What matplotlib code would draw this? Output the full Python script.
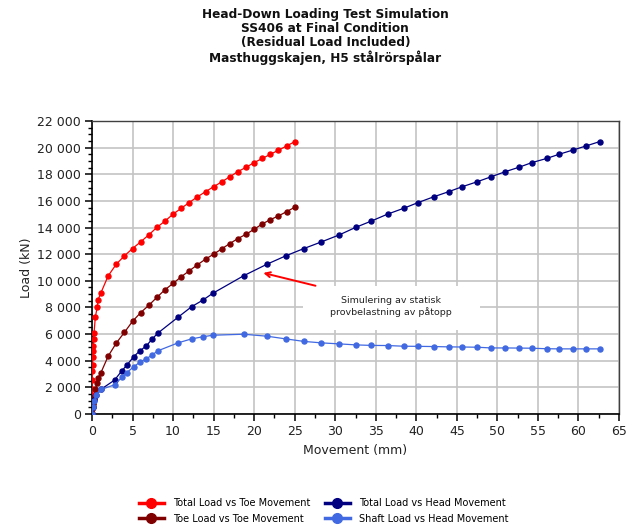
import matplotlib
matplotlib.use("Agg")
import matplotlib.pyplot as plt
from matplotlib.lines import Line2D
from matplotlib.patches import Rectangle
from matplotlib.ticker import MultipleLocator, FuncFormatter

# Pile head-down loading simulation (SS406, final condition)
toe_movement = [0, 0.003, 0.006, 0.01, 0.02, 0.04, 0.06, 0.08, 0.11, 0.14,
                0.17, 0.20, 0.25, 0.41, 0.66, 0.74, 1.07, 2, 3, 4,
                5, 6, 7, 8, 9, 10, 11, 12, 13, 14,
                15, 16, 17, 18, 19, 20, 21, 22, 23, 24, 25]
head_movement = [0, 0.1, 0.25, 0.55, 1.15, 2.78, 3.68, 4.26, 5.16, 5.9,
                 6.7, 7.4, 8.1, 10.65, 12.29, 13.69, 14.88, 18.7, 21.6, 23.9,
                 26.14, 28.3, 30.5, 32.51, 34.44, 36.46, 38.43, 40.24, 42.13, 43.98,
                 45.66, 47.47, 49.24, 51.0, 52.65, 54.25, 56.07, 57.6, 59.27, 60.9, 62.6]
total_load = [0, 560, 1050, 1430, 1871, 2545, 3244, 3643, 4316, 4740,
              5115, 5614, 6063, 7285, 8059, 8558, 9057, 10379, 11252, 11876,
              12425, 12924, 13448, 14010, 14484, 15008, 15444, 15880, 16305, 16690,
              17065, 17430, 17815, 18200, 18525, 18875, 19186, 19500, 19810, 20120, 20450]
toe_load = [0, 5, 10, 20, 30, 340, 480, 560, 740, 830,
            950, 1100, 1250, 1850, 2300, 2700, 3060, 4350, 5330, 6130,
            6961, 7610, 8159, 8757, 9331, 9805, 10304, 10753, 11202, 11627,
            12001, 12400, 12799, 13174, 13498, 13872, 14271, 14596, 14870, 15195, 15519]
shaft_load = [0, 550, 950, 1400, 1846, 2196, 2745, 3094, 3550, 3890,
              4150, 4420, 4740, 5350, 5640, 5800, 5913, 5990, 5840, 5640,
              5450, 5340, 5265, 5190, 5150, 5140, 5090, 5080, 5065, 5040,
              5030, 5015, 4960, 4960, 4950, 4940, 4900, 4890, 4890, 4890, 4890]

series = [
    ("Total Load vs Toe Movement", toe_movement, total_load, "#ff0000"),
    ("Toe Load vs Toe Movement", toe_movement, toe_load, "#800000"),
    ("Total Load vs Head Movement", head_movement, total_load, "#000080"),
    ("Shaft Load vs Head Movement", head_movement, shaft_load, "#4169e1"),
]

title_lines = ["Head-Down Loading Test Simulation",
               "SS406 at Final Condition",
               "(Residual Load Included)",
               "Masthuggskajen, H5 stålrörspålar"]
note_text = "Simulering av statisk\nprovbelastning av påtopp"

plt.rcParams["font.family"] = ["DejaVu Sans"]

fig = plt.figure(figsize=(6.28, 5.28), dpi=100)
ax = fig.add_axes([92 / 628, 1 - 414 / 528, 527 / 628, 293 / 528])

for label, xs, ys, color in series:
    ax.plot(xs, ys, color=color, lw=0.9, marker="o", ms=3.6, mec=color,
            mfc=color, zorder=3, label=label)

ax.set_xlim(0, 65)
ax.set_ylim(0, 22000)
ax.xaxis.set_major_locator(MultipleLocator(5))
ax.xaxis.set_minor_locator(MultipleLocator(2.5))
ax.yaxis.set_major_locator(MultipleLocator(2000))
ax.yaxis.set_minor_locator(MultipleLocator(500))
ax.yaxis.set_major_formatter(FuncFormatter(lambda v, p: f"{int(v):,}".replace(",", " ")))

ax.set_axisbelow(True)
ax.grid(True, which="major", color="#c4c4c4", lw=1.2)
ax.tick_params(which="major", direction="out", length=5, width=1.1,
               labelsize=9, labelcolor="#222222", pad=3)
ax.tick_params(which="minor", direction="out", length=3, width=1.0)

for side in ("left", "bottom"):
    ax.spines[side].set_color("black")
    ax.spines[side].set_linewidth(1.2)
for side in ("top", "right"):
    ax.spines[side].set_color("#404040")
    ax.spines[side].set_linewidth(1.0)

ax.set_xlabel("Movement (mm)", fontsize=9, color="#222222", labelpad=4)
ax.set_ylabel("Load (kN)", fontsize=9, color="#222222", labelpad=3)

# Note box with arrow pointing at the head-movement curve
ax.add_patch(Rectangle((26.0, 6300), 21.8, 3280, facecolor="white",
                       edgecolor="none", zorder=1.5))
ax.text(36.9, 8050, note_text, ha="center", va="center", fontsize=6.8,
        color="#222222", linespacing=1.25, zorder=4)
ax.annotate("", xy=(20.8, 10640), xytext=(27.9, 9580),
            arrowprops=dict(arrowstyle="->", color="#ff0000", lw=1.4,
                            mutation_scale=9), zorder=4)

fig.text(0.518, 1 - 8 / 528, "\n".join(title_lines), ha="center", va="top",
         fontsize=8.7, fontweight="bold", color="#111111", linespacing=1.12)

handles = [Line2D([], [], color=c, lw=2.5, marker="o", ms=7, mec=c, mfc=c)
           for _, _, _, c in series]
labels = [s[0] for s in series]
fig.legend(handles, labels, ncol=2, loc="center", bbox_to_anchor=(0.516, 17 / 528),
           frameon=False, fontsize=7, handlelength=2.5, handletextpad=1.0,
           columnspacing=1.5, labelspacing=0.55, borderaxespad=0)

fig.savefig("out.png", dpi=100)
